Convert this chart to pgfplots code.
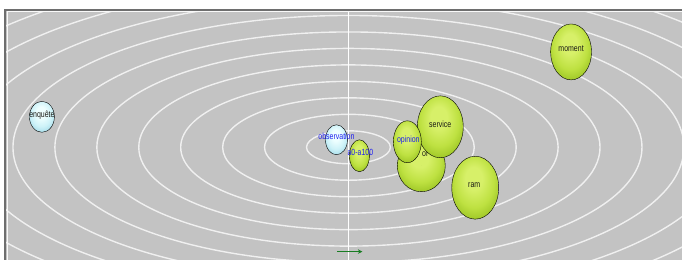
\documentclass[border=0pt]{standalone}
\usepackage{pgfplots}
\pgfplotsset{compat=1.18}
\usepackage{pgfplotstable}
\usepackage{fontspec}
\setmainfont{Liberation Sans}
\usetikzlibrary{arrows.meta}
\definecolor{bg}{RGB}{195,195,195}
\definecolor{ringc}{RGB}{240,240,240}
\definecolor{bordc}{RGB}{110,110,110}
\definecolor{arrowg}{RGB}{25,125,35}
\definecolor{lblue}{RGB}{30,30,240}
\definecolor{lblack}{RGB}{25,25,20}
\definecolor{gA}{RGB}{215,240,105}
\definecolor{gB}{RGB}{190,225,65}
\definecolor{gC}{RGB}{160,200,40}
\definecolor{gD}{RGB}{110,145,20}
\definecolor{cA}{RGB}{238,255,255}
\definecolor{cB}{RGB}{205,242,248}
\definecolor{cC}{RGB}{170,222,235}
\definecolor{cD}{RGB}{115,170,185}
\pgfdeclareradialshading{gball}{\pgfqpoint{-2bp}{9bp}}{color(0bp)=(gA); color(9bp)=(gA); color(21bp)=(gB); color(29bp)=(gC); color(37bp)=(gD); color(50bp)=(gD)}
\pgfdeclareradialshading{cball}{\pgfqpoint{-2bp}{9bp}}{color(0bp)=(cA); color(9bp)=(cA); color(21bp)=(cB); color(29bp)=(cC); color(37bp)=(cD); color(50bp)=(cD)}
\pgfplotstableread{
id x y rx ry sh lc dx dy label
0 42 117 12.5 15.5 cball lblack 0 2 enquête
1 337 140 11 15 cball lblue 0 3 observation
2 360 156 10 16 gball lblue 1 3 a0-a100
3 572 52 20.5 28 gball lblack 0 3 moment
4 476 188 23.5 31.5 gball lblack -1 3 ram
5 422 166 24 26 gball lblack 4 12 or
6 441 127 23 31 gball lblack 0 3 service
7 408 142 14 21 gball lblue 1 2 opinion
}\bubbles
\begin{document}
\begin{tikzpicture}
\begin{axis}[scale only axis, width=683bp, height=260bp,
  xmin=0, xmax=683, ymin=0, ymax=260, y dir=reverse,
  hide axis, clip=false]
\path (axis cs:0,0) rectangle (axis cs:683,260);
\fill[bg] (axis cs:5,10) rectangle (axis cs:683,260);
\begin{scope}
\clip (axis cs:5,10) rectangle (axis cs:683,260);
\pgfplotsinvokeforeach{1,...,14}{
  \draw[ringc, line width=1.4bp] (axis cs:349,147.5) ellipse [x radius={42*#1bp}, y radius={16.5*#1bp}];
}
\end{scope}
\draw[white, line width=1bp] (axis cs:349,11) -- (axis cs:349,260);
\draw[bordc, line width=2.2bp] (axis cs:5,260) -- (axis cs:5,10) -- (axis cs:683,10);
\draw[white!90!bg, line width=0.7bp] (axis cs:7,260) -- (axis cs:7,11.8) -- (axis cs:683,11.8);
\draw[arrowg, line width=1.4bp, -{Stealth[length=4.5bp,width=4.5bp]}] (axis cs:338,252) -- (axis cs:363,252);
\addplot[scatter, only marks, mark=*, mark size=0pt, mark options={draw=none, fill=none},
  visualization depends on={\thisrow{id}\as\bid},
  visualization depends on={\thisrow{rx}\as\brx},
  visualization depends on={\thisrow{ry}\as\bry},
  visualization depends on={\thisrow{dx}\as\bdx},
  visualization depends on={\thisrow{dy}\as\bdy},
  scatter/@pre marker code/.code={\begin{scope}
    \pgfmathtruncatemacro\rid{\bid}%
    \pgfplotstablegetelem{\rid}{sh}\of\bubbles\let\bsh\pgfplotsretval
    \pgfplotstablegetelem{\rid}{lc}\of\bubbles\let\blc\pgfplotsretval
    \pgfplotstablegetelem{\rid}{label}\of\bubbles\let\lbl\pgfplotsretval
    \shade[shading=\bsh] (0,0) ellipse [x radius=\brx bp, y radius=\bry bp];
    \node[text=\blc, font=\fontsize{9}{10}\selectfont, inner sep=0pt] at (\bdx bp,\bdy bp) {\scalebox{0.78}[1]{\lbl}};
  },
  scatter/@post marker code/.code={\end{scope}}
] table[x=x, y=y] {\bubbles};
\end{axis}
\end{tikzpicture}
\end{document}
